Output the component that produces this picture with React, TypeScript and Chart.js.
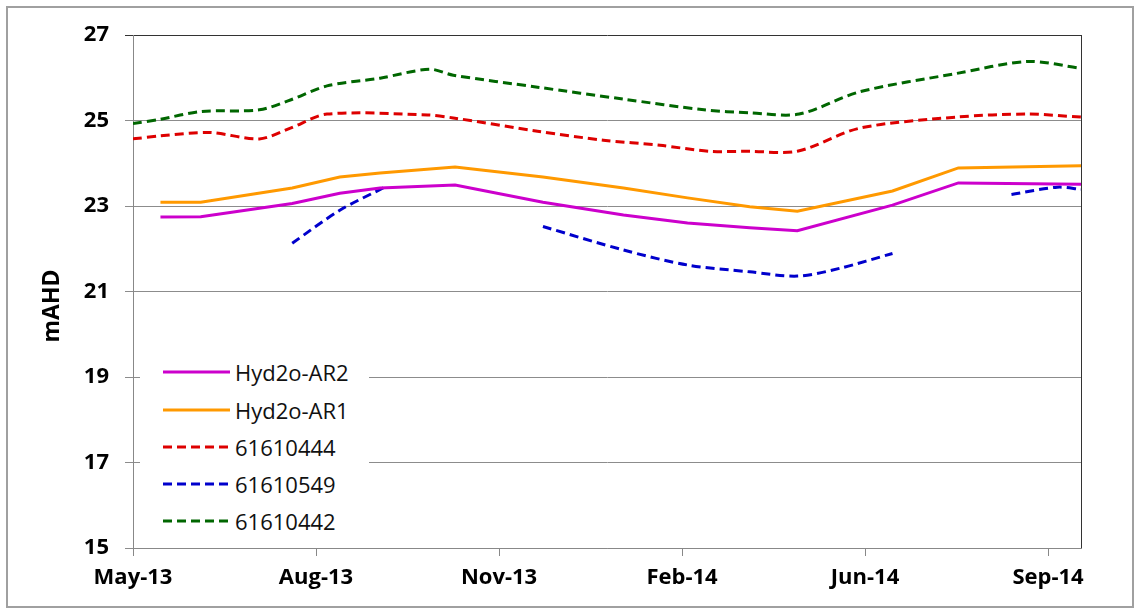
import React, { useEffect, useRef } from "react";
import { Chart, registerables } from "chart.js";

Chart.register(...registerables);

// X axis: days since 1 May 2013; ticks every 100 days
const xTickValues = [0, 100, 200, 300, 400, 500];
const xTickLabels = ["May-13", "Aug-13", "Nov-13", "Feb-14", "Jun-14", "Sep-14"];
const xMax = 518;
const yMin = 15;
const yMax = 27;
const yStep = 2;

const seriesNames = ["Hyd2o-AR2", "Hyd2o-AR1", "61610444", "61610549", "61610442"];
const seriesColors = ["#CC00CC", "#FF9900", "#DD0000", "#0000CC", "#006600"];
const seriesDashed = [false, false, true, true, true];

const hydDays = [15, 37, 87, 113, 135, 176, 224, 268, 303, 337, 363, 415, 451, 518];
const ar2Values = [22.74, 22.75, 23.06, 23.3, 23.42, 23.49, 23.09, 22.79, 22.6, 22.49, 22.42, 23.02, 23.54, 23.51];
const ar1Values = [23.09, 23.09, 23.42, 23.68, 23.77, 23.91, 23.68, 23.42, 23.19, 22.98, 22.88, 23.35, 23.89, 23.94];

const redDays = [0, 15, 42, 69, 86, 106, 161, 175, 221, 257, 288, 315, 337, 363, 397, 450, 489, 518];
const redValues = [24.57, 24.64, 24.72, 24.57, 24.82, 25.15, 25.13, 25.06, 24.75, 24.54, 24.42, 24.28, 24.28, 24.28, 24.82, 25.08, 25.15, 25.08];

const blueDays = [87, 113, 138, 180, 224, 268, 303, 337, 363, 386, 415, 450, 480, 505, 518];
const blueValues = [22.13, 22.9, 23.45, null, 22.52, 21.97, 21.62, 21.46, 21.36, 21.54, 21.89, null, 23.27, 23.44, 23.39];

const greenDays = [0, 15, 37, 69, 86, 106, 135, 162, 175, 221, 268, 312, 337, 364, 397, 450, 489, 518];
const greenValues = [24.93, 25.03, 25.21, 25.25, 25.48, 25.81, 25.99, 26.2, 26.06, 25.78, 25.5, 25.25, 25.18, 25.15, 25.67, 26.1, 26.38, 26.22];

const seriesDays = [hydDays, hydDays, redDays, blueDays, greenDays];
const seriesValues = [ar2Values, ar1Values, redValues, blueValues, greenValues];

const yTitle = "mAHD";
const FONT = "'Open Sans', 'DejaVu Sans', sans-serif";

const framePlugin = {
  id: "frame",
  afterDraw(chart: any) {
    const { ctx, chartArea } = chart;
    ctx.save();
    ctx.strokeStyle = "#333333";
    ctx.lineWidth = 1;
    ctx.beginPath();
    ctx.moveTo(Math.round(chartArea.right) + 0.5, chartArea.top);
    ctx.lineTo(Math.round(chartArea.right) + 0.5, chartArea.bottom);
    ctx.stroke();
    ctx.fillStyle = "#000";
    ctx.font = `bold 23px ${FONT}`;
    ctx.textAlign = "center";
    ctx.textBaseline = "middle";
    ctx.translate(52, 306);
    ctx.rotate(-Math.PI / 2);
    ctx.fillText(yTitle, 0, 0);
    ctx.restore();
  },
};

export default function App() {
  const ref = useRef<HTMLCanvasElement | null>(null);

  useEffect(() => {
    if (!ref.current) return;
    const datasets = seriesNames.map((name, i) => ({
      label: name,
      data: seriesDays[i].map((d, j) => ({ x: d, y: seriesValues[i][j] })),
      borderColor: seriesColors[i],
      backgroundColor: seriesColors[i],
      borderWidth: 3,
      borderDash: seriesDashed[i] ? [9, 5] : [],
      pointRadius: 0,
      tension: seriesDashed[i] ? 0.3 : 0,
      spanGaps: false,
      fill: false,
    }));
    const chart = new Chart(ref.current, {
      type: "line",
      data: { datasets },
      plugins: [framePlugin],
      options: {
        animation: false,
        responsive: false,
        maintainAspectRatio: false,
        layout: { padding: { top: 35, right: 58, left: 0, bottom: 0 } },
        plugins: { legend: { display: false }, tooltip: { enabled: false } },
        scales: {
          x: {
            type: "linear",
            min: 0,
            max: xMax,
            afterBuildTicks: (scale: any) => {
              scale.ticks = xTickValues.map((v) => ({ value: v }));
            },
            afterFit: (scale: any) => {
              scale.height = 62;
            },
            ticks: {
              callback: (v: any) => {
                const i = xTickValues.indexOf(Number(v));
                return i >= 0 ? xTickLabels[i] : "";
              },
              color: "#000",
              font: { family: FONT, size: 22, weight: "bold" },
              padding: 9,
              maxRotation: 0,
              autoSkip: false,
            },
            grid: { drawOnChartArea: false, drawTicks: true, tickLength: 8, color: "#888888" },
            border: { display: true, color: "#888888" },
          },
          y: {
            min: yMin,
            max: yMax,
            afterFit: (scale: any) => {
              scale.width = 133;
            },
            ticks: {
              stepSize: yStep,
              color: "#000",
              font: { family: FONT, size: 22, weight: "bold" },
              padding: 16,
            },
            grid: {
              color: (c: any) => (c.tick && c.tick.value === yMax ? "#333333" : "#8c8c8c"),
              tickLength: 8,
            },
            border: { display: true, color: "#888888" },
          },
        },
      },
    });
    return () => chart.destroy();
  }, []);

  const legendTop = 352;
  const centers = [372, 410, 447, 484, 521];

  return (
    <div style={{ position: "fixed", left: 0, top: 0, width: 1139, height: 610, background: "#fff" }}>
      <div
        style={{
          position: "absolute",
          left: 6,
          top: 6,
          width: 1128,
          height: 602,
          border: "2px solid #a0a0a0",
          boxSizing: "border-box",
        }}
      />
      <canvas ref={ref} width={1139} height={610} style={{ position: "absolute", left: 0, top: 0, width: 1139, height: 610 }} />
      <div
        style={{
          position: "absolute",
          left: 140,
          top: legendTop,
          width: 229,
          height: 188,
          background: "#fff",
        }}
      >
        {seriesNames.map((name, i) => (
          <div
            key={name}
            style={{
              position: "absolute",
              left: 0,
              top: centers[i] - legendTop - 15,
              height: 30,
              width: 229,
              display: "flex",
              alignItems: "center",
            }}
          >
            <svg width={67} height={6} style={{ marginLeft: 23, display: "block" }}>
              <line
                x1={0}
                y1={3}
                x2={67}
                y2={3}
                stroke={seriesColors[i]}
                strokeWidth={3}
                strokeDasharray={seriesDashed[i] ? "9 5" : undefined}
              />
            </svg>
            <span style={{ marginLeft: 5, fontFamily: FONT, fontSize: 22, color: "#111", lineHeight: "30px", whiteSpace: "nowrap" }}>
              {name}
            </span>
          </div>
        ))}
      </div>
    </div>
  );
}
